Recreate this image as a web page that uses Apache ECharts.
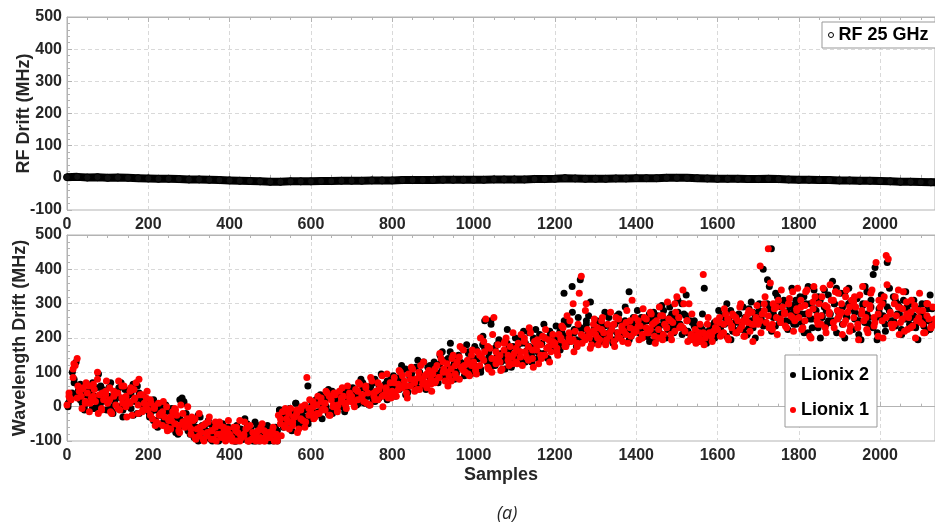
<!DOCTYPE html>
<html>
<head>
<meta charset="utf-8">
<script src="https://cdn.jsdelivr.net/npm/echarts@6/dist/echarts.min.js"></script>
<style>html,body{margin:0;padding:0;background:#fff}#c{width:935px;height:530px}</style>
</head>
<body>
<div id="c"></div>
<script>
// ---- data ----
const rfStep = 25; // samples between RF readings
const rfDrift = [2,3,1,2,0,1,0,-1,-2,-3,-3,-4,-5,-5,-6,-7,-8,-9,-10,-11,-12,-12,-11,-11,-11,-10,-10,-9,-9,-9,-8,-8,-8,-7,-7,-7,-7,-6,-6,-6,-6,-6,-5,-5,-5,-5,-4,-4,-3,-1,-2,-3,-3,-3,-2,-2,-1,-1,-1,0,0,0,-1,-2,-3,-3,-3,-4,-4,-3,-4,-5,-6,-6,-7,-7,-8,-8,-9,-9,-10,-11,-12,-12,-13,-14,-14];

const wlStep = 5; // samples between wavelength readings (main pass)
const lionix1 = [
 5,30,20,85,120,140,45,30,55,10,40,-15,25,65,15,100,35,-5,20,45,
 10,55,-20,30,5,40,-10,25,60,0,15,45,-25,20,70,5,35,-15,10,25,
 -10,20,-35,-5,-45,10,-20,-55,-30,0,-40,-65,-15,-50,-25,-70,5,-45,-60,-35,
 -55,-80,-40,-90,-65,-20,-75,-95,-50,-85,-30,-70,-95,-60,-80,-45,-90,-75,-100,-65,
 -80,-95,-60,-100,-75,-40,-90,-85,-65,-100,-55,-95,-80,-100,-70,-90,-50,-100,-85,-75,
 -90,-70,-100,-80,-25,-50,-15,-60,-35,-45,-5,-55,-30,-20,-65,-10,-40,5,85,-25,
 -15,15,-30,5,-20,25,-5,10,40,-25,20,0,35,-10,45,15,30,5,60,25,
 30,10,50,20,65,35,15,55,40,5,75,30,45,20,60,90,35,50,25,70,
 45,85,30,65,100,55,75,40,95,60,110,70,50,85,120,65,90,55,105,80,
 95,70,120,85,140,100,75,125,90,110,150,95,130,80,115,165,100,135,90,120,
 130,105,160,120,145,190,255,115,170,140,260,125,180,150,110,165,200,135,175,145,
 155,130,185,160,120,200,145,175,215,140,190,165,125,180,205,150,170,195,160,210,
 185,160,210,195,230,175,265,200,190,300,220,185,330,380,205,195,225,210,180,240,
 210,230,195,250,215,180,240,205,225,190,260,215,200,235,220,245,185,230,310,215,
 220,250,235,200,260,230,215,275,240,205,250,225,265,195,240,230,255,210,245,300,
 320,260,235,340,220,250,300,210,195,205,200,215,190,385,200,210,215,205,220,230,
 225,260,210,240,270,200,245,230,265,215,250,290,235,205,260,245,220,275,240,255,
 240,410,270,300,245,460,360,225,285,260,310,245,290,270,230,300,265,335,250,285,
 260,310,230,295,340,270,200,285,320,250,300,265,345,230,290,275,310,245,335,280,
 265,300,240,320,275,220,310,260,290,230,325,270,250,300,215,285,340,260,420,205,
 290,250,320,440,430,270,230,300,265,340,245,285,220,305,260,275,235,295,250,280,
 245,280,215,300,255,230,290,240,265,225
];
const lionix2 = [
 0,25,40,70,130,60,20,50,0,35,15,45,-5,30,55,95,10,40,25,-10,
 30,70,-15,15,45,0,25,-30,50,10,35,-5,65,20,-20,40,5,30,-10,15,
 -20,5,-40,-10,-55,-25,0,-45,-15,-65,-35,-5,-50,-75,-30,20,-55,15,-40,-70,
 -70,-45,-90,-60,-25,-85,-55,-95,-70,-40,-80,-100,-65,-50,-90,-75,-85,-60,-95,-80,
 -70,-90,-100,-55,-85,-75,-95,-35,-80,-100,-65,-90,-45,-85,-100,-75,-60,-95,-80,-100,
 -75,-95,-60,-100,-10,-40,-60,-25,-45,-5,-50,-30,10,-40,-20,-55,0,-30,60,-15,
 -5,-30,20,-15,10,-35,30,0,-20,25,45,5,-10,35,15,50,0,40,20,30,
 20,50,5,40,25,70,10,45,30,60,15,80,40,25,55,35,65,20,50,85,
 60,30,80,50,95,70,110,45,90,65,80,115,55,100,75,130,60,95,85,110,
 80,120,95,150,105,85,135,110,160,95,125,100,145,115,170,90,130,155,110,140,
 120,165,140,100,180,250,135,160,250,125,170,145,195,130,155,110,185,160,140,175,
 140,175,160,200,135,185,165,215,150,195,175,140,210,185,155,200,170,220,185,195,
 200,175,220,185,330,205,240,190,350,215,195,260,370,225,200,250,215,305,190,230,
 225,195,245,210,235,200,260,220,190,240,215,270,205,230,250,225,335,210,240,230,
 240,215,260,230,205,250,270,220,245,195,265,235,210,280,250,225,290,240,215,260,
 310,240,300,225,265,215,250,200,235,195,210,205,225,345,200,215,235,210,245,225,
 250,220,265,240,205,255,280,230,245,215,270,240,225,260,210,285,250,230,265,245,
 280,255,400,240,300,350,460,270,235,320,260,290,245,305,275,250,295,240,310,265,
 290,245,320,270,215,300,255,340,280,230,310,265,290,240,325,270,250,300,345,260,
 280,240,330,265,300,225,285,255,315,210,270,300,245,335,260,290,230,405,195,275,
 260,305,240,420,280,250,320,235,270,290,225,310,255,280,240,300,265,230,285,250,
 270,235,300,250,225,285,245,320,260,230
];
const wlStepB = 10; // extra readings in between
const lionix1b = [
 40,110,25,50,15,60,30,80,-10,35,
 20,45,-5,60,30,10,50,-20,35,5,
 -25,0,-50,-15,-60,-30,-5,-55,-20,-45,
 -65,-35,-85,-55,-75,-95,-45,-80,-60,-90,
 -90,-70,-100,-80,-60,-95,-85,-100,-70,-90,
 -80,-95,-35,-55,-20,-45,-10,-35,-60,-5,
 0,-20,15,-10,30,5,-15,25,10,40,
 15,45,25,60,5,40,70,30,55,40,
 70,50,90,60,80,45,100,75,95,65,
 110,85,130,100,75,120,145,105,125,150,
 115,150,135,175,100,160,130,185,150,125,
 170,145,190,135,165,180,150,200,175,190,
 170,200,185,215,195,175,210,280,200,220,
 200,225,185,215,240,200,230,210,250,225,
 235,210,255,225,245,200,265,230,250,220,
 260,230,250,205,225,200,215,240,210,230,
 245,215,255,235,260,225,250,270,240,260,
 250,280,265,240,290,255,275,300,260,280,
 290,250,275,305,265,240,295,270,310,255,
 275,250,290,305,240,280,260,295,235,270,
 300,260,275,240,290,255,270,230,285,260,
 240,265,230,255,270
];
const lionix2b = [
 20,80,45,10,35,55,-5,25,50,15,
 0,35,55,-10,25,40,15,-20,30,0,
 -15,-40,0,-30,-50,-20,-65,-35,10,-55,
 -50,-75,-30,-65,-90,-55,-80,-70,-95,-60,
 -85,-100,-65,-90,-75,-100,-55,-80,-95,-70,
 -100,-70,-20,-45,-35,-15,-50,-25,0,-35,
 -20,10,-5,25,-15,15,35,0,30,20,
 35,10,55,30,45,15,60,40,75,45,
 55,85,65,40,95,70,85,60,115,75,
 100,125,90,140,115,95,130,110,160,125,
 140,110,170,145,120,180,155,135,170,140,
 155,185,130,175,200,160,185,145,205,170,
 190,215,180,200,225,190,205,240,215,195,
 215,240,205,230,195,250,220,240,205,235,
 220,245,205,260,235,215,250,230,270,240,
 240,270,220,245,210,235,205,220,195,215,
 230,260,245,220,265,240,255,230,275,250,
 265,245,285,260,300,270,250,290,275,300,
 270,300,255,285,320,260,280,245,300,275,
 290,260,305,275,250,295,270,310,255,285,
 265,290,245,310,270,255,295,260,240,280,
 255,285,240,270,250
];
const lionix1c = [
 25,125,60,-5,70,10,50,-20,40,75,
 -15,40,75,10,-30,55,25,80,-10,45,
 10,-55,-25,15,-70,-40,-10,-75,-45,0,
 -30,-95,-60,-100,-45,-70,-100,-55,-85,-40,
 -100,-60,-85,-45,-100,-75,-95,-60,-100,-80,
 -60,-100,-85,-5,-65,-30,-75,0,-45,20,
 -35,30,-10,45,-25,40,5,55,-5,15,
 0,70,35,10,85,20,50,0,95,25,
 40,105,60,25,115,80,50,130,70,45,
 75,155,110,60,140,85,175,120,95,165,
 95,200,160,110,210,140,105,190,120,215,
 125,210,160,230,115,195,140,225,130,180,
 150,235,175,250,160,240,185,300,170,255,
 180,260,195,275,175,255,190,280,205,260,
 195,285,215,270,185,290,210,305,195,275,
 230,300,190,270,185,240,180,260,190,250,
 205,285,195,270,215,300,205,280,190,295,
 215,320,230,300,210,340,235,315,220,345,
 225,335,205,350,240,320,215,355,230,330,
 210,340,235,320,195,350,225,330,245,310,
 200,355,240,320,210,335,225,310,200,330,
 215,300,235,320,210
];
const lionix2c = [
 10,100,35,65,-10,45,70,0,60,20,
 55,-20,30,70,0,45,-25,60,20,-5,
 -30,20,-60,-20,5,-65,-35,-80,25,-20,
 -80,-40,-100,-70,-50,-95,-65,-100,-50,-85,
 -65,-100,-75,-95,-50,-85,-100,-70,-90,-55,
 -95,-65,-10,-55,-30,-70,10,-40,-10,-50,
 10,-25,35,-5,50,-20,20,45,-15,55,
 55,20,80,35,5,70,45,95,30,60,
 90,55,120,35,105,60,135,80,50,120,
 130,70,160,100,185,80,150,115,180,95,
 175,110,205,130,240,120,190,150,225,115,
 200,135,220,165,130,225,155,240,140,210,
 235,165,250,190,275,175,230,200,265,185,
 250,190,275,215,185,265,205,290,195,260,
 280,200,255,190,275,215,295,200,260,230,
 275,210,325,195,250,190,270,185,230,200,
 280,215,300,195,265,225,290,210,305,200,
 300,235,370,220,330,245,310,225,345,240,
 320,215,350,230,310,200,340,250,365,215,
 330,200,345,225,315,195,350,240,385,215,
 325,220,345,250,300,210,335,230,310,195,
 300,220,325,245,315
];
const xTicks = { min: 0, max: 2135, interval: 200 };
const yTicks = { min: -100, max: 500, interval: 100 };

// ---- build ----
const FONT = 'Liberation Sans';
const TXT = '#262626';
const AX = '#b3b3b3';
const pairs = (arr, step, off) => arr.map((v, i) => [i * step + off, v]);

function xAx(grid, pos, showLabel, extra) {
  return Object.assign({
    type: 'value', gridIndex: grid, position: pos,
    min: xTicks.min, max: xTicks.max, interval: xTicks.interval,
    axisLine: { show: true, lineStyle: { color: AX, width: 1 } },
    axisTick: { show: true, inside: true, length: 5, lineStyle: { color: AX } },
    minorTick: { show: true, splitNumber: 4, length: 3, lineStyle: { color: AX } },
    splitLine: { show: showLabel, lineStyle: { color: '#d9d9d9', type: [4, 3] } },
    axisLabel: { show: showLabel, color: TXT, fontFamily: FONT, fontWeight: 'bold', fontSize: 16, margin: 7,
      showMaxLabel: false, formatter: v => String(v) }
  }, extra || {});
}
function yAx(grid, name, gap) {
  return {
    type: 'value', gridIndex: grid,
    min: yTicks.min, max: yTicks.max, interval: yTicks.interval,
    name: name, nameLocation: 'middle', nameGap: gap, nameMoveOverlap: false,
    nameTextStyle: { color: TXT, fontFamily: FONT, fontWeight: 'bold', fontSize: 18 },
    axisLine: { show: true, lineStyle: { color: AX } },
    axisTick: { show: true, inside: true, length: 5, lineStyle: { color: AX } },
    minorTick: { show: true, splitNumber: 5, length: 3, lineStyle: { color: AX } },
    splitLine: { show: true, lineStyle: { color: '#d9d9d9', type: [4, 3] } },
    axisLabel: { color: TXT, fontFamily: FONT, fontWeight: 'bold', fontSize: 16, margin: 5, formatter: v => String(v) }
  };
}
const dot = (name, arr, step, off, color) => ({
  name: name, type: 'scatter', xAxisIndex: 2, yAxisIndex: 1,
  data: pairs(arr, step, off), symbolSize: 7,
  itemStyle: { color: color, opacity: 1 }
});

const chart = echarts.init(document.getElementById('c'), null, { renderer: 'canvas' });
chart.setOption({
  animation: false,
  backgroundColor: '#fff',
  grid: [
    { left: 67, top: 17, width: 868, height: 193, show: true, borderColor: AX, borderWidth: 1,
      containLabel: false, outerBoundsMode: 'none' },
    { left: 67, top: 235, width: 868, height: 206, show: true, borderColor: AX, borderWidth: 1,
      containLabel: false, outerBoundsMode: 'none' }
  ],
  xAxis: [
    xAx(0, 'bottom', true),
    xAx(0, 'top', false),
    xAx(1, 'bottom', true, { name: 'Samples', nameLocation: 'middle', nameGap: 25, nameMoveOverlap: false,
      nameTextStyle: { color: TXT, fontFamily: FONT, fontWeight: 'bold', fontSize: 18 } }),
    xAx(1, 'top', false)
  ],
  yAxis: [ yAx(0, 'RF Drift (MHz)', 34), yAx(1, 'Wavelength Drift (MHz)', 38) ],
  legend: [
    {
      left: 822, top: 22, padding: [4, 12, 4, 6], itemWidth: 5, itemHeight: 5, itemGap: 10,
      borderColor: '#999', borderWidth: 1, backgroundColor: '#fff',
      textStyle: { color: '#000', fontFamily: FONT, fontWeight: 'bold', fontSize: 18, lineHeight: 18 },
      data: [{ name: 'RF 25 GHz', icon: 'circle', itemStyle: { color: '#fff', borderColor: '#000', borderWidth: 1 } }]
    },
    {
      left: 785, top: 355, orient: 'vertical', padding: [11, 8, 8, 5], itemWidth: 6, itemHeight: 6, itemGap: 17,
      borderColor: '#999', borderWidth: 1, backgroundColor: '#fff',
      textStyle: { color: '#000', fontFamily: FONT, fontWeight: 'bold', fontSize: 18, lineHeight: 18 },
      data: [{ name: 'Lionix 2', icon: 'circle' }, { name: 'Lionix 1', icon: 'circle' }]
    }
  ],
  series: [
    {
      name: 'RF 25 GHz', type: 'line', xAxisIndex: 0, yAxisIndex: 0,
      data: pairs(rfDrift, rfStep, 0),
      symbol: 'circle', symbolSize: 7, showSymbol: true,
      itemStyle: { color: '#111', borderColor: '#000', borderWidth: 1 },
      lineStyle: { color: '#000', width: 8 }
    },
    dot('Lionix 2', lionix2, wlStep, 2.5, '#000'),
    dot('Lionix 2', lionix2b, wlStepB, 7.5, '#000'),
    dot('Lionix 2', lionix2c, wlStepB, 3, '#000'),
    dot('Lionix 1', lionix1, wlStep, 0, '#ff0000'),
    dot('Lionix 1', lionix1b, wlStepB, 5, '#ff0000'),
    dot('Lionix 1', lionix1c, wlStepB, 7, '#ff0000')
  ],
  graphic: [
    { type: 'text', left: 497, top: 505, style: { text: '(a)', font: 'italic 18px "Open Sans"', fill: '#262626' } }
  ]
});
</script>
</body>
</html>
